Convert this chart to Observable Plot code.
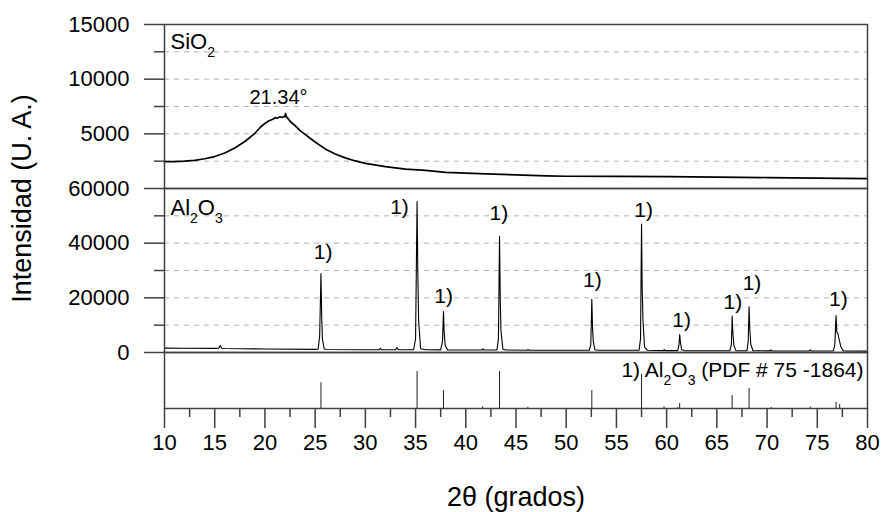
<!DOCTYPE html>
<html>
<head>
<meta charset="utf-8">
<script src="https://cdn.jsdelivr.net/npm/d3@7"></script>
<script src="https://cdn.jsdelivr.net/npm/@observablehq/plot@0.6"></script>
<style>
  html, body { margin: 0; padding: 0; background: white; }
  #chart { position: relative; width: 884px; height: 512px; }
  #chart svg { position: absolute; left: 0; top: 0; }
</style>
</head>
<body>
<div id="chart"></div>
<script>
// ---------- data ----------
const xMajor = [10, 15, 20, 25, 30, 35, 40, 45, 50, 55, 60, 65, 70, 75, 80];
const xMinor = [12.5, 17.5, 22.5, 27.5, 32.5, 37.5, 42.5, 47.5, 52.5, 57.5, 62.5, 67.5, 72.5, 77.5];

const sioMajor = [5000, 10000, 15000];
const sioMinor = [2500, 7500, 12500];
const sioGrid = [2500, 5000, 7500, 10000, 12500];

const alMajor = [0, 20000, 40000, 60000];
const alMinor = [10000, 30000, 50000];
const alGrid = [10000, 20000, 30000, 40000, 50000];

// SiO2 amorphous pattern
const sioX = [10, 11, 12, 13, 14, 15, 16, 17, 18, 19, 19.6, 20, 20.4, 20.8, 21.0, 21.2, 21.5, 21.7, 21.9, 22.0, 22.05, 22.12, 22.5, 23, 23.5, 24, 25, 26, 27, 28, 29, 30, 32, 34, 36, 38, 40, 42, 45, 48, 50, 55, 60, 65, 70, 75, 80];
const sioY = [2450, 2460, 2500, 2580, 2720, 2920, 3250, 3700, 4300, 5050, 5650, 5950, 6200, 6330, 6480, 6420, 6560, 6500, 6590, 6560, 6850, 6600, 6150, 5750, 5300, 4950, 4250, 3620, 3150, 2800, 2520, 2300, 2000, 1780, 1650, 1480, 1400, 1330, 1250, 1150, 1120, 1100, 1080, 1040, 1000, 950, 900];
const sioPeakLabel = ["21.34°"];
const sioPeakLabelX = [21.35];
const sioPeakLabelY = [8280];

// Al2O3 pattern
const alX = [10, 12, 15, 15.4, 15.55, 15.7, 16, 20, 25, 25.3, 25.45, 25.58, 25.65, 25.72, 25.9, 26.2, 30, 31.4, 31.5, 31.6, 33.0, 33.15, 33.3, 34.8, 35.0, 35.15, 35.22, 35.3, 35.5, 36, 37.5, 37.68, 37.78, 37.84, 37.95, 38.2, 41.6, 41.7, 41.8, 43.1, 43.25, 43.36, 43.43, 43.5, 43.7, 44, 46.1, 46.2, 46.3, 52.3, 52.45, 52.55, 52.62, 52.7, 52.85, 53.2, 57.25, 57.4, 57.5, 57.56, 57.64, 57.8, 58.1, 59.7, 59.75, 59.85, 61.1, 61.22, 61.3, 61.38, 61.5, 61.8, 66.3, 66.45, 66.52, 66.6, 66.7, 66.9, 68.0, 68.12, 68.21, 68.28, 68.38, 68.6, 70.3, 70.4, 70.5, 74.2, 74.3, 74.4, 76.6, 76.75, 76.87, 76.95, 77.05, 77.15, 77.23, 77.35, 77.6, 80];
const alY = [1600, 1550, 1500, 1550, 2600, 1550, 1450, 1300, 1150, 1250, 6000, 28900, 14000, 5000, 1300, 1100, 1000, 1000, 1500, 1000, 1000, 1800, 1000, 1000, 5000, 55200, 30000, 12000, 1400, 1000, 950, 4000, 15000, 8000, 2500, 950, 900, 1300, 900, 900, 5000, 42500, 20000, 8000, 1200, 900, 850, 1100, 850, 800, 3000, 19500, 9000, 4000, 1000, 800, 800, 5000, 47000, 24500, 12000, 2000, 800, 700, 1100, 700, 700, 2500, 6600, 3500, 1000, 700, 650, 3000, 13300, 7000, 2500, 700, 650, 4000, 16700, 8700, 3000, 650, 600, 900, 600, 550, 1000, 550, 550, 3000, 13500, 7400, 7000, 5200, 4000, 2000, 600, 500];
const peakLabelX = [25.8, 33.4, 37.8, 43.3, 52.6, 57.7, 61.5, 66.6, 68.5, 77.1];
const peakLabelY = [36700, 53200, 20500, 50800, 26300, 52200, 11700, 18400, 25400, 19600];

// Reference pattern Al2O3 (PDF # 75-1864), relative intensity
const stickX = [25.58, 35.15, 37.78, 41.68, 43.36, 46.18, 52.55, 57.50, 59.74, 61.12, 61.30, 66.52, 68.21, 70.42, 74.30, 76.87, 77.23];
const stickI = [46, 66, 32, 3, 66, 2, 32, 61, 3, 2, 9, 23, 36, 2, 3, 11, 7];

const sioLabel = ["SiO2"];
const alLabel = ["Al2O3"];
const refLabel = ["1) Al2O3 (PDF # 75 -1864)"];
const yTitle = ["Intensidad (U. A.)"];
const xTitle = ["2θ (grados)"];

// ---------- tables ----------
const sio = sioX.map((x, i) => ({x, y: sioY[i]}));
const al = alX.map((x, i) => ({x, y: alY[i]}));
const sticks = stickX.map((x, i) => ({x, y: stickI[i]}));
const peakLabels = peakLabelX.map((x, i) => ({x, y: peakLabelY[i], t: "1)"}));
const sioPeak = sioPeakLabel.map((t, i) => ({t, x: sioPeakLabelX[i], y: sioPeakLabelY[i]}));

// ---------- styling ----------
const FONT = "'Liberation Sans', Arial, Helvetica, sans-serif";
const LINE = "#404040";
const common = {
  width: 884,
  height: 512,
  marginLeft: 164,
  marginRight: 17,
  x: {domain: [10, 80], axis: null},
  style: {background: "transparent", fontFamily: FONT, fontSize: "22px", color: "black", overflow: "visible"}
};
const fmt = (d) => `${d}`;
const gridStyle = {stroke: "#b0b0b0", strokeOpacity: 1, strokeWidth: 1, strokeDasharray: "5,5"};

const plotTop = Plot.plot({
  ...common,
  marginTop: 24,
  marginBottom: 512 - 188,
  y: {domain: [0, 15000], axis: null},
  marks: [
    Plot.gridY(sioGrid, gridStyle),
    Plot.line(sio, {x: "x", y: "y", stroke: "black", strokeWidth: 1.7}),
    Plot.frame({stroke: LINE, strokeWidth: 1.5}),
    Plot.axisY(sioMajor, {anchor: "left", tickSize: 20, tickPadding: 15, fontSize: 22, stroke: LINE, strokeWidth: 1.5, fill: "black", tickFormat: fmt, label: null}),
    Plot.axisY(sioMinor, {anchor: "left", tickSize: 10, stroke: LINE, strokeWidth: 1.5, tickFormat: () => "", label: null}),
    Plot.text(sioPeak, {x: "x", y: "y", text: "t", fontSize: 20, fill: "black"}),
    Plot.text(sioLabel, {frameAnchor: "top-left", dx: 6, dy: 9, fontSize: 22, fill: "black"})
  ]
});

const plotMid = Plot.plot({
  ...common,
  marginTop: 188,
  marginBottom: 512 - 352,
  y: {domain: [0, 60000], axis: null},
  marks: [
    Plot.gridY(alGrid, gridStyle),
    Plot.line(al, {x: "x", y: "y", stroke: "black", strokeWidth: 1.1}),
    Plot.frame({stroke: LINE, strokeWidth: 1.5}),
    Plot.axisY(alMajor, {anchor: "left", tickSize: 20, tickPadding: 15, fontSize: 22, stroke: LINE, strokeWidth: 1.5, fill: "black", tickFormat: fmt, label: null}),
    Plot.axisY(alMinor, {anchor: "left", tickSize: 10, stroke: LINE, strokeWidth: 1.5, tickFormat: () => "", label: null}),
    Plot.text(peakLabels, {x: "x", y: "y", text: "t", fontSize: 21, fill: "black"}),
    Plot.text(alLabel, {frameAnchor: "top-left", dx: 6, dy: 11, fontSize: 22, fill: "black"}),
    Plot.text(yTitle, {frameAnchor: "left", textAnchor: "middle", lineAnchor: "middle", dx: -142, dy: -72, rotate: -90, fontSize: 27, fill: "black"})
  ]
});

const plotBot = Plot.plot({
  ...common,
  marginTop: 352,
  marginBottom: 512 - 408,
  y: {domain: [0, 100], axis: null},
  marks: [
    Plot.ruleX(sticks, {x: "x", y1: 0, y2: "y", stroke: "#202020", strokeWidth: 1}),
    Plot.frame({stroke: LINE, strokeWidth: 1.5}),
    Plot.axisX(xMajor, {anchor: "bottom", tickSize: 20, tickPadding: 6, fontSize: 22, stroke: LINE, strokeWidth: 1.5, fill: "black", tickFormat: fmt, label: null}),
    Plot.axisX(xMinor, {anchor: "bottom", tickSize: 9, stroke: LINE, strokeWidth: 1.5, tickFormat: () => "", label: null}),
    Plot.text(refLabel, {frameAnchor: "top-right", dx: -4, dy: 10, fontSize: 21, fill: "black"}),
    Plot.text(xTitle, {frameAnchor: "bottom", dy: 97, fontSize: 27, fill: "black"})
  ]
});

// turn chemical formula digits into subscripts
function subscriptify(svg) {
  const ns = "http://www.w3.org/2000/svg";
  svg.querySelectorAll("text").forEach((t) => {
    const s = t.textContent;
    if (!/SiO2|Al2O3/.test(s)) return;
    while (t.firstChild) t.removeChild(t.firstChild);
    const tokens = s.split(/(SiO2|Al2O3)/);
    let lowered = false;
    const add = (str, sub) => {
      if (!str) return;
      const ts = document.createElementNS(ns, "tspan");
      ts.textContent = str;
      if (sub) {
        ts.setAttribute("font-size", "14px");
        if (!lowered) { ts.setAttribute("dy", "8"); lowered = true; }
      } else if (lowered) {
        ts.setAttribute("dy", "-8"); lowered = false;
      }
      t.appendChild(ts);
    };
    tokens.forEach((tok) => {
      if (/^(SiO2|Al2O3)$/.test(tok)) {
        tok.replace(/([A-Za-z]+)(\d*)/g, (m, a, b) => { add(a, false); add(b, true); return m; });
      } else add(tok, false);
    });
  });
}

const chart = document.getElementById("chart");
for (const p of [plotTop, plotMid, plotBot]) {
  subscriptify(p);
  chart.appendChild(p);
}
</script>
</body>
</html>
